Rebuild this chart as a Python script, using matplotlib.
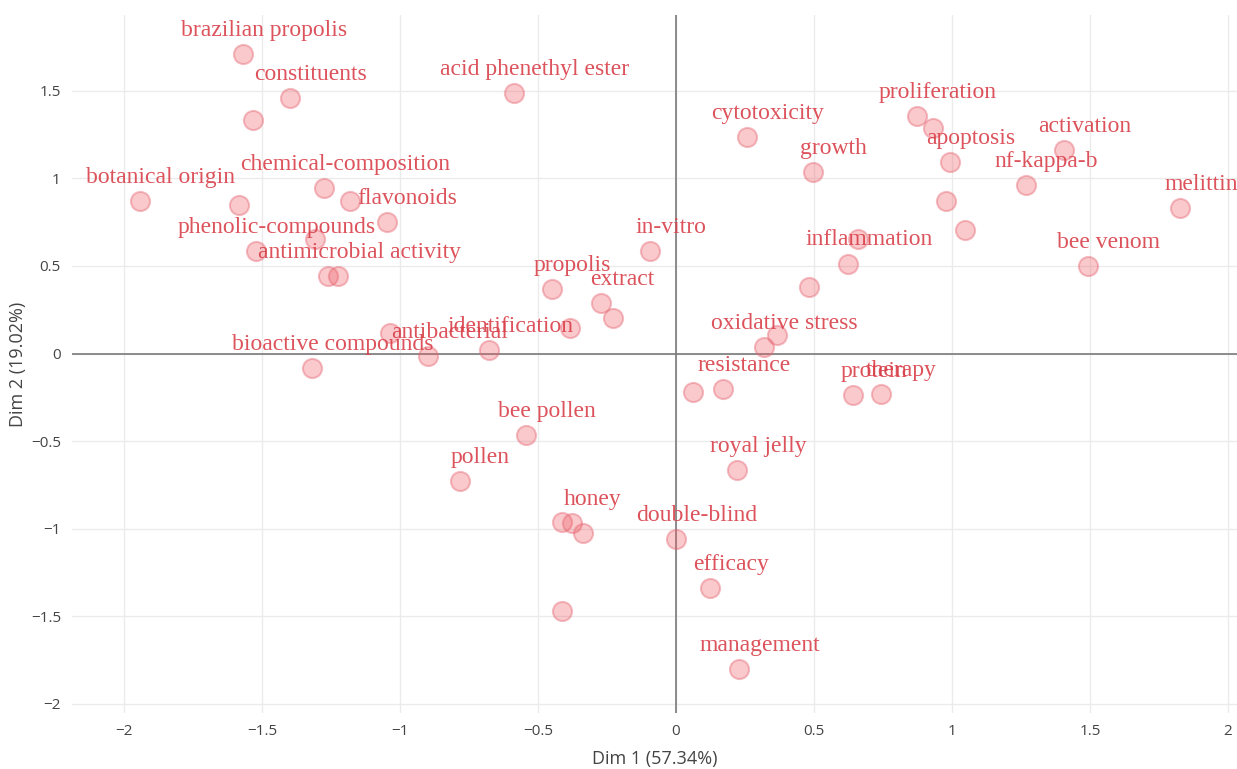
import matplotlib.pyplot as plt
import numpy as np

# word coordinates on the first two dimensions
dim1 = [-1.569, -1.399, -1.533, -0.588, -1.941, -1.582, -1.275, -1.179, -1.048,
        -1.308, -1.521, -1.260, -1.223, -1.318, -1.036, -0.897, -0.676, -0.383,
        -0.450, -0.271, -0.227, -0.095, 0.258, 0.497, 0.483, 0.365, 0.319,
        0.063, 0.171, 0.624, 0.661, 0.872, 0.932, 0.993, 1.407, 1.267, 0.978,
        1.047, 1.827, 1.493, 0.643, 0.742, -0.543, -0.783, -0.412, -0.376,
        -0.338, 0.000, 0.123, -0.414, 0.229, 0.222]
dim2 = [1.711, 1.458, 1.334, 1.487, 0.873, 0.847, 0.947, 0.870, 0.750,
        0.656, 0.584, 0.443, 0.443, -0.081, 0.115, -0.014, 0.020, 0.144,
        0.370, 0.287, 0.201, 0.587, 1.239, 1.039, 0.378, 0.106, 0.039,
        -0.218, -0.205, 0.514, 0.653, 1.357, 1.287, 1.093, 1.163, 0.961, 0.870,
        0.706, 0.830, 0.500, -0.237, -0.231, -0.466, -0.727, -0.961, -0.967,
        -1.027, -1.062, -1.342, -1.470, -1.805, -0.666]
words = ["brazilian propolis", "constituents", "", "acid phenethyl ester",
         "botanical origin", "", "chemical-composition", "", "flavonoids",
         "", "phenolic-compounds", "", "antimicrobial activity",
         "bioactive compounds", "", "antibacterial", "identification", "",
         "propolis", "extract", "", "in-vitro", "cytotoxicity", "growth", "",
         "", "oxidative stress", "", "resistance", "inflammation", "",
         "proliferation", "", "apoptosis", "activation", "nf-kappa-b", "",
         "", "melittin", "bee venom", "protein", "therapy", "bee pollen",
         "pollen", "", "honey", "", "double-blind", "efficacy", "",
         "management", "royal jelly"]

fig = plt.figure(figsize=(12.37, 7.69), dpi=100)
ax = fig.add_axes([0.0582, 0.0728, 0.9418, 0.9077])

ax.scatter(dim1, dim2, s=190, facecolor=(0.93, 0.35, 0.38, 0.32),
           edgecolor=(0.90, 0.40, 0.45, 0.42), linewidth=1.5, zorder=3)
for x, y, w in zip(dim1, dim2, words):
    if w:
        ax.annotate(w, (x, y), xytext=(15, 17), textcoords="offset points",
                    ha="center", va="center", fontsize=17,
                    family="Liberation Serif", color="#d9404a", alpha=0.9, zorder=4)

ax.axhline(0, color="#7a7a7a", lw=1.2, zorder=2)
ax.axvline(0, color="#7a7a7a", lw=1.2, zorder=2)

ax.set_xlim(-2.188, 2.033)
ax.set_ylim(-2.054, 1.934)
ax.set_xticks([-2, -1.5, -1, -0.5, 0, 0.5, 1, 1.5, 2])
ax.set_xticklabels(["\u22122", "\u22121.5", "\u22121", "\u22120.5", "0", "0.5", "1", "1.5", "2"])
ax.set_yticks([-2, -1.5, -1, -0.5, 0, 0.5, 1, 1.5])
ax.set_yticklabels(["\u22122", "\u22121.5", "\u22121", "\u22120.5", "0", "0.5", "1", "1.5"])
for t in ax.get_xticklabels() + ax.get_yticklabels():
    t.set_family("Open Sans")
ax.grid(color="#ebebeb", lw=1)
ax.set_axisbelow(True)
ax.tick_params(length=0, labelsize=11, colors="#444444", pad=8)
for s in ax.spines.values():
    s.set_visible(False)
ax.set_xlabel("Dim 1 (57.34%)", fontsize=13, color="#444444", family="Open Sans")
ax.set_ylabel("Dim 2 (19.02%)", fontsize=13, color="#444444", family="Open Sans")
ax.xaxis.set_label_coords(0.5, -0.053)
ax.yaxis.set_label_coords(-0.039, 0.5)

plt.savefig("out.png", dpi=100)
